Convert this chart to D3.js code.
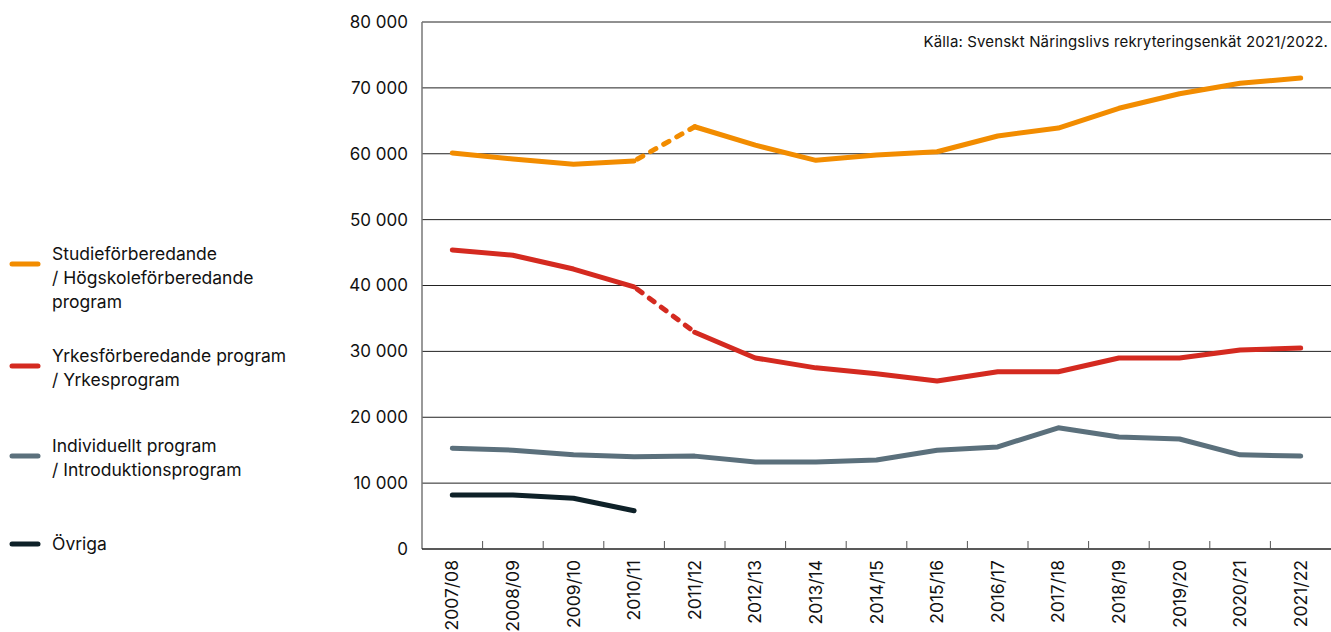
<!DOCTYPE html>
<html><head><meta charset="utf-8">
<script src="https://cdn.jsdelivr.net/npm/d3@7"></script>
<style>
html,body{margin:0;padding:0;background:#fff;}
svg{display:block;font-family:Inter,"Noto Sans",sans-serif;}
</style></head>
<body><svg id="c" width="1331" height="632"></svg>
<script>
const categories = ["2007/08","2008/09","2009/10","2010/11","2011/12","2012/13","2013/14","2014/15","2015/16","2016/17","2017/18","2018/19","2019/20","2020/21","2021/22"];
const studie = [60100,59200,58400,58900,64100,61300,59000,59800,60300,62700,63900,66900,69100,70700,71500];
const yrkes = [45400,44600,42500,39800,32900,29000,27500,26600,25500,26900,26900,29000,29000,30200,30500];
const individ = [15300,15000,14300,14000,14100,13200,13200,13500,15000,15500,18400,17000,16700,14300,14100];
const ovriga = [8200,8200,7700,5800,null,null,null,null,null,null,null,null,null,null,null];
const yTicks = [0,10000,20000,30000,40000,50000,60000,70000,80000];
const seriesNames = [["Studieförberedande","/ Högskoleförberedande","program"],["Yrkesförberedande program","/ Yrkesprogram"],["Individuellt program","/ Introduktionsprogram"],["Övriga"]];
const colors = ["#F28C00","#D42A20","#5B707C","#0E2128"];
const dashedGap = ["2010/11","2011/12"];
const source = "Källa: Svenskt Näringslivs rekryteringsenkät 2021/2022.";

const svg = d3.select("#c");
const L=422,R=1331,T=22,B=549;
const x = d3.scaleBand().domain(categories).range([L,R]);
const y = d3.scaleLinear().domain([0,80000]).range([B,T]);
const fmt = v => d3.format(",")(v).replace(/,/g," ");

// grid
svg.append("g").selectAll("line").data(yTicks.filter(d=>d>0)).join("line")
  .attr("x1",L).attr("x2",R).attr("y1",d=>y(d)).attr("y2",d=>y(d))
  .attr("stroke","#222").attr("stroke-width",1);
// y labels
svg.append("g").selectAll("text").data(yTicks).join("text")
  .attr("x",408).attr("y",d=>y(d)).attr("dy","0.35em").attr("text-anchor","end")
  .attr("font-size",17).attr("fill","#111").text(fmt);
// y axis line
svg.append("line").attr("x1",L).attr("x2",L).attr("y1",T).attr("y2",B).attr("stroke","#777").attr("stroke-width",1.5);
// x axis
const xa = svg.append("g").attr("transform",`translate(0,${B})`);
xa.append("line").attr("x1",L).attr("x2",R).attr("stroke","#222").attr("stroke-width",1.5);
xa.selectAll("line.t").data(categories.slice(1)).join("line").attr("class","t")
  .attr("x1",d=>x(d)).attr("x2",d=>x(d)).attr("y1",0).attr("y2",-8).attr("stroke","#555").attr("stroke-width",1);
xa.selectAll("text").data(categories).join("text")
  .attr("transform",d=>`translate(${x(d)+x.bandwidth()/2},11) rotate(-90)`)
  .attr("text-anchor","end").attr("dy","0.35em").attr("font-size",17.5).attr("fill","#111").text(d=>d);

// source
svg.append("text").attr("x",1328).attr("y",47).attr("text-anchor","end").attr("font-size",15).attr("letter-spacing",0.15).attr("fill","#111").text(source);

// lines
const cx = d => x(d)+x.bandwidth()/2;
const allSeries=[studie,yrkes,individ,ovriga];
const gi0 = categories.indexOf(dashedGap[0]), gi1 = categories.indexOf(dashedGap[1]);
const line = d3.line().defined(d=>d.v!=null).x(d=>cx(d.c)).y(d=>y(d.v));
allSeries.forEach((s,i)=>{
  const pts = categories.map((c,j)=>({c,v:s[j]}));
  const g = svg.append("g").attr("fill","none").attr("stroke",colors[i]).attr("stroke-width",5).attr("stroke-linecap","round").attr("stroke-linejoin","round");
  if(i<2){
    g.append("path").attr("d",line(pts.slice(0,gi0+1)));
    g.append("path").attr("d",line(pts.slice(gi1)));
    g.append("path").attr("d",line(pts.slice(gi0,gi1+1))).attr("stroke-dasharray","6 9").attr("stroke-dashoffset",-4);
  } else {
    g.append("path").attr("d",line(pts));
  }
});

// legend
const legY=[264,366,456,544];
const legTextY=[254,356,446,544];
seriesNames.forEach((names,i)=>{
  svg.append("line").attr("x1",12).attr("x2",38).attr("y1",legY[i]).attr("y2",legY[i])
    .attr("stroke",colors[i]).attr("stroke-width",5).attr("stroke-linecap","round");
  const t = svg.append("text").attr("font-size",17.5).attr("fill","#111");
  names.forEach((n,k)=>t.append("tspan").attr("x",52).attr("y",legTextY[i]+k*24).attr("dy","0.35em").text(n));
});
</script></body></html>
